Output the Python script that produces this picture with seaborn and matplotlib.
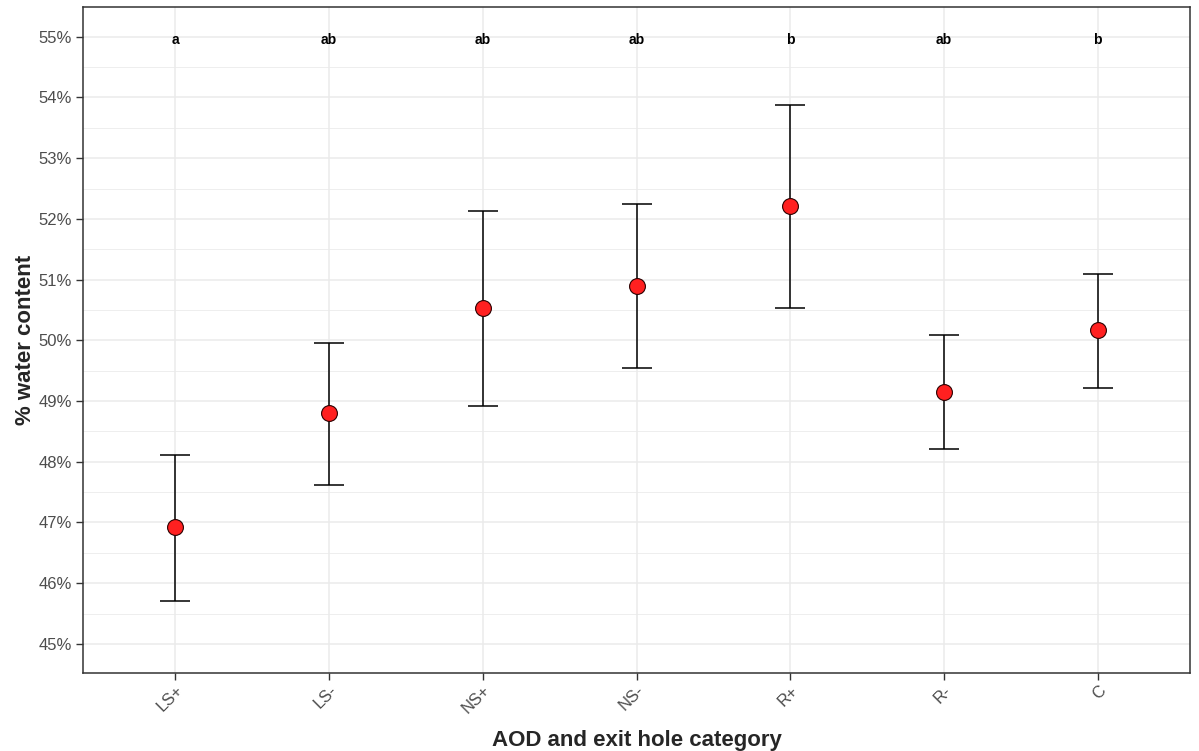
import matplotlib
matplotlib.use("Agg")
import matplotlib.pyplot as plt
from matplotlib.ticker import MultipleLocator, FuncFormatter
from matplotlib.transforms import ScaledTranslation
import seaborn as sns
import pandas as pd

categories = ["LS+", "LS-", "NS+", "NS-", "R+", "R-", "C"]
means = [46.93, 48.81, 50.54, 50.90, 52.22, 49.15, 50.17]
upper = [48.11, 49.95, 52.13, 52.24, 53.87, 50.09, 51.10]
lower = [45.71, 47.61, 48.91, 49.54, 50.54, 48.21, 49.21]
letters = ["a", "ab", "ab", "ab", "b", "ab", "b"]

df = pd.DataFrame({"cat": categories, "mean": means, "upper": upper, "lower": lower})

sns.set_style("white")
plt.rcParams["font.family"] = ["Liberation Sans", "DejaVu Sans"]

fig = plt.figure(figsize=(11.99, 7.51), dpi=100)
ax = fig.add_axes([83/1199, 1 - 673/751, (1190-83)/1199, (673-7)/751])

pos = list(range(len(categories)))
yerr = [[m - l for m, l in zip(means, lower)], [u - m for m, u in zip(means, upper)]]
ax.errorbar(pos, means, yerr=yerr, fmt="none", ecolor="black", elinewidth=1.1,
            capsize=11, capthick=1.1, zorder=3)
sns.scatterplot(data=df, x="cat", y="mean", ax=ax, s=130, color="#FF2020",
                edgecolor="#2a0000", linewidth=0.8, zorder=4, legend=False)

for p, t in zip(pos, letters):
    ax.text(p, 54.94, t, ha="center", va="center", fontsize=10, fontweight="bold", color="black")

ax.set_xlim(-0.6, 6.6)
ax.set_ylim(44.52, 55.49)
ax.yaxis.set_major_locator(MultipleLocator(1))
ax.yaxis.set_minor_locator(MultipleLocator(0.5))
ax.yaxis.set_major_formatter(FuncFormatter(lambda v, _: f"{v:.0f}%"))
ax.set_xticks(pos)
ax.set_xticklabels(categories, rotation=45, ha="right", va="top", rotation_mode="anchor")
offset = ScaledTranslation(9/100, 2/100, fig.dpi_scale_trans)
for lab in ax.get_xticklabels():
    lab.set_transform(lab.get_transform() + offset)

ax.grid(True, which="major", color="#EBEBEB", linewidth=1.1)
ax.grid(True, which="minor", axis="y", color="#EBEBEB", linewidth=0.6)
ax.set_axisbelow(True)
for s in ax.spines.values():
    s.set_color("#333333")
    s.set_linewidth(1.1)

ax.tick_params(axis="both", which="major", left=True, bottom=True, length=5, width=1,
               color="#333333", labelsize=12, labelcolor="#4D4D4D", direction="out", pad=3)
ax.tick_params(axis="y", which="minor", left=False, length=0)
ax.tick_params(axis="x", pad=2)

ax.set_xlabel("AOD and exit hole category", fontsize=16, fontweight="bold", labelpad=10)
ax.set_ylabel("% water content", fontsize=16, fontweight="bold", labelpad=2)

fig.savefig("out.png", dpi=100)
